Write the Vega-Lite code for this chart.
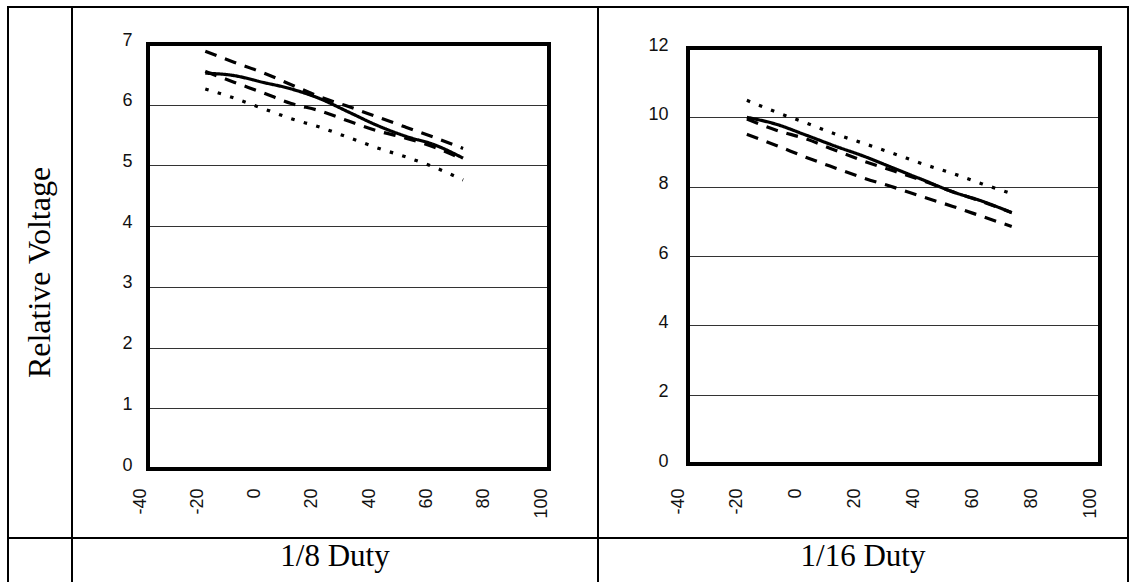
{
  "$schema": "https://vega.github.io/schema/vega-lite/v6.json",
  "padding": {"left": 7, "top": 6, "right": 0, "bottom": 0},
  "background": "white",
  "config": {
    "view": {"stroke": "black", "strokeWidth": 2},
    "axis": {"domain": false, "ticks": false, "tickSize": 0, "labelFont": "Liberation Sans", "labelFontSize": 18, "labelColor": "#111", "gridColor": "#333", "gridWidth": 1.2, "gridOpacity": 1}
  },
  "datasets": {
    "duty8": [
      {"temperature": -20, "voltage": 6.52, "curve": "Curve 1"},
      {"temperature": -10, "voltage": 6.48, "curve": "Curve 1"},
      {"temperature": 0, "voltage": 6.37, "curve": "Curve 1"},
      {"temperature": 10, "voltage": 6.26, "curve": "Curve 1"},
      {"temperature": 20, "voltage": 6.10, "curve": "Curve 1"},
      {"temperature": 30, "voltage": 5.88, "curve": "Curve 1"},
      {"temperature": 40, "voltage": 5.66, "curve": "Curve 1"},
      {"temperature": 50, "voltage": 5.48, "curve": "Curve 1"},
      {"temperature": 60, "voltage": 5.34, "curve": "Curve 1"},
      {"temperature": 70, "voltage": 5.12, "curve": "Curve 1"},
      {"temperature": -20, "voltage": 6.88, "curve": "Curve 2"},
      {"temperature": -10, "voltage": 6.70, "curve": "Curve 2"},
      {"temperature": 0, "voltage": 6.53, "curve": "Curve 2"},
      {"temperature": 10, "voltage": 6.33, "curve": "Curve 2"},
      {"temperature": 20, "voltage": 6.13, "curve": "Curve 2"},
      {"temperature": 30, "voltage": 5.97, "curve": "Curve 2"},
      {"temperature": 40, "voltage": 5.80, "curve": "Curve 2"},
      {"temperature": 50, "voltage": 5.63, "curve": "Curve 2"},
      {"temperature": 60, "voltage": 5.46, "curve": "Curve 2"},
      {"temperature": 70, "voltage": 5.28, "curve": "Curve 2"},
      {"temperature": -20, "voltage": 6.55, "curve": "Curve 3"},
      {"temperature": -10, "voltage": 6.37, "curve": "Curve 3"},
      {"temperature": 0, "voltage": 6.20, "curve": "Curve 3"},
      {"temperature": 10, "voltage": 6.02, "curve": "Curve 3"},
      {"temperature": 20, "voltage": 5.90, "curve": "Curve 3"},
      {"temperature": 30, "voltage": 5.73, "curve": "Curve 3"},
      {"temperature": 40, "voltage": 5.57, "curve": "Curve 3"},
      {"temperature": 50, "voltage": 5.45, "curve": "Curve 3"},
      {"temperature": 60, "voltage": 5.30, "curve": "Curve 3"},
      {"temperature": 70, "voltage": 5.10, "curve": "Curve 3"},
      {"temperature": -20, "voltage": 6.26, "curve": "Curve 4"},
      {"temperature": -10, "voltage": 6.11, "curve": "Curve 4"},
      {"temperature": 0, "voltage": 5.94, "curve": "Curve 4"},
      {"temperature": 10, "voltage": 5.77, "curve": "Curve 4"},
      {"temperature": 20, "voltage": 5.63, "curve": "Curve 4"},
      {"temperature": 30, "voltage": 5.46, "curve": "Curve 4"},
      {"temperature": 40, "voltage": 5.29, "curve": "Curve 4"},
      {"temperature": 50, "voltage": 5.14, "curve": "Curve 4"},
      {"temperature": 60, "voltage": 4.97, "curve": "Curve 4"},
      {"temperature": 70, "voltage": 4.76, "curve": "Curve 4"}
    ],
    "duty16": [
      {"temperature": -20, "voltage": 10.0, "curve": "Curve 1"},
      {"temperature": -10, "voltage": 9.80, "curve": "Curve 1"},
      {"temperature": 0, "voltage": 9.49, "curve": "Curve 1"},
      {"temperature": 10, "voltage": 9.17, "curve": "Curve 1"},
      {"temperature": 20, "voltage": 8.87, "curve": "Curve 1"},
      {"temperature": 30, "voltage": 8.53, "curve": "Curve 1"},
      {"temperature": 40, "voltage": 8.19, "curve": "Curve 1"},
      {"temperature": 50, "voltage": 7.85, "curve": "Curve 1"},
      {"temperature": 60, "voltage": 7.58, "curve": "Curve 1"},
      {"temperature": 70, "voltage": 7.25, "curve": "Curve 1"},
      {"temperature": -20, "voltage": 9.51, "curve": "Curve 2"},
      {"temperature": -10, "voltage": 9.19, "curve": "Curve 2"},
      {"temperature": 0, "voltage": 8.85, "curve": "Curve 2"},
      {"temperature": 10, "voltage": 8.54, "curve": "Curve 2"},
      {"temperature": 20, "voltage": 8.24, "curve": "Curve 2"},
      {"temperature": 30, "voltage": 7.98, "curve": "Curve 2"},
      {"temperature": 40, "voltage": 7.70, "curve": "Curve 2"},
      {"temperature": 50, "voltage": 7.43, "curve": "Curve 2"},
      {"temperature": 60, "voltage": 7.14, "curve": "Curve 2"},
      {"temperature": 70, "voltage": 6.85, "curve": "Curve 2"},
      {"temperature": -20, "voltage": 9.95, "curve": "Curve 3"},
      {"temperature": -10, "voltage": 9.63, "curve": "Curve 3"},
      {"temperature": 0, "voltage": 9.38, "curve": "Curve 3"},
      {"temperature": 10, "voltage": 9.05, "curve": "Curve 3"},
      {"temperature": 20, "voltage": 8.73, "curve": "Curve 3"},
      {"temperature": 30, "voltage": 8.45, "curve": "Curve 3"},
      {"temperature": 40, "voltage": 8.17, "curve": "Curve 3"},
      {"temperature": 50, "voltage": 7.85, "curve": "Curve 3"},
      {"temperature": 60, "voltage": 7.57, "curve": "Curve 3"},
      {"temperature": 70, "voltage": 7.25, "curve": "Curve 3"},
      {"temperature": -20, "voltage": 10.49, "curve": "Curve 4"},
      {"temperature": -10, "voltage": 10.15, "curve": "Curve 4"},
      {"temperature": 0, "voltage": 9.84, "curve": "Curve 4"},
      {"temperature": 10, "voltage": 9.52, "curve": "Curve 4"},
      {"temperature": 20, "voltage": 9.24, "curve": "Curve 4"},
      {"temperature": 30, "voltage": 8.95, "curve": "Curve 4"},
      {"temperature": 40, "voltage": 8.65, "curve": "Curve 4"},
      {"temperature": 50, "voltage": 8.38, "curve": "Curve 4"},
      {"temperature": 60, "voltage": 8.08, "curve": "Curve 4"},
      {"temperature": 70, "voltage": 7.80, "curve": "Curve 4"}
    ]
  },
  "columns": 3,
  "spacing": 0,
  "bounds": "flush",
  "resolve": {"scale": {"x": "independent", "y": "independent"}},
  "concat": [
    {
      "width": 64,
      "height": 531,
      "data": {"values": [{"label": "Relative Voltage"}]},
      "mark": {"type": "text", "angle": 270, "font": "Liberation Serif", "fontSize": 32, "color": "black", "align": "center", "baseline": "middle"},
      "encoding": {
        "x": {"field": "label", "type": "nominal", "axis": null},
        "y": {"field": "label", "type": "nominal", "axis": null},
        "text": {"field": "label", "type": "nominal"}
      }
    },
    {
      "width": 526,
      "height": 531,
      "layer": [
        {
          "data": {"name": "duty8"},
          "mark": {"type": "line", "interpolate": "monotone", "color": "black", "strokeWidth": 3.2},
          "encoding": {
            "x": {"field": "temperature", "type": "quantitative",
              "scale": {"domain": [-40, 100], "range": [76, 477], "nice": false, "zero": false},
              "axis": {"values": [-40, -20, 0, 20, 40, 60, 80, 100], "labelExpr": "'' + datum.value", "labelAngle": 270, "offset": -52, "labelPadding": 2, "labelOffset": -8, "title": null, "grid": false}},
            "y": {"field": "voltage", "type": "quantitative",
              "scale": {"domain": [0, 7], "range": [462, 37], "nice": false, "zero": false},
              "axis": {"values": [0, 1, 2, 3, 4, 5, 6, 7], "labelExpr": "'' + datum.value", "offset": -62, "labelPadding": 2, "labelOffset": -4, "grid": true, "title": null}},
            "strokeDash": {"field": "curve", "type": "nominal", "legend": null,
              "scale": {"domain": ["Curve 1", "Curve 2", "Curve 3", "Curve 4"], "range": [[1, 0], [12, 9], [12, 9], [3.5, 9.5]]}}
          }
        },
        {
          "data": {"values": [{"frame": "plot"}]},
          "mark": {"type": "rect", "fill": "transparent", "stroke": "black", "strokeWidth": 4},
          "encoding": {"x": {"datum": -40}, "x2": {"datum": 100}, "y": {"datum": 0}, "y2": {"datum": 7}}
        }
      ]
    },
    {
      "width": 530,
      "height": 531,
      "layer": [
        {
          "data": {"name": "duty16"},
          "mark": {"type": "line", "interpolate": "monotone", "color": "black", "strokeWidth": 3.2},
          "encoding": {
            "x": {"field": "temperature", "type": "quantitative",
              "scale": {"domain": [-40, 100], "range": [90, 502], "nice": false, "zero": false},
              "axis": {"values": [-40, -20, 0, 20, 40, 60, 80, 100], "labelExpr": "'' + datum.value", "labelAngle": 270, "offset": -52, "labelPadding": 2, "labelOffset": -10, "title": null, "grid": false}},
            "y": {"field": "voltage", "type": "quantitative",
              "scale": {"domain": [0, 12], "range": [457, 41], "nice": false, "zero": false},
              "axis": {"values": [0, 2, 4, 6, 8, 10, 12], "labelExpr": "'' + datum.value", "offset": -72, "labelPadding": 2, "labelOffset": -3, "grid": true, "title": null}},
            "strokeDash": {"field": "curve", "type": "nominal", "legend": null,
              "scale": {"domain": ["Curve 1", "Curve 2", "Curve 3", "Curve 4"], "range": [[1, 0], [12, 9], [12, 9], [3.5, 9.5]]}}
          }
        },
        {
          "data": {"values": [{"frame": "plot"}]},
          "mark": {"type": "rect", "fill": "transparent", "stroke": "black", "strokeWidth": 4},
          "encoding": {"x": {"datum": -40}, "x2": {"datum": 100}, "y": {"datum": 0}, "y2": {"datum": 12}}
        }
      ]
    },
    {
      "width": 64,
      "height": 45,
      "data": {"values": [{"label": " "}]},
      "mark": {"type": "text"},
      "encoding": {
        "x": {"field": "label", "type": "nominal", "axis": null},
        "y": {"field": "label", "type": "nominal", "axis": null},
        "text": {"field": "label", "type": "nominal"}
      }
    },
    {
      "width": 526,
      "height": 45,
      "data": {"values": [{"label": "1/8 Duty"}]},
      "mark": {"type": "text", "font": "Liberation Serif", "fontSize": 31, "color": "black", "align": "center", "baseline": "middle", "dy": -4},
      "encoding": {
        "x": {"field": "label", "type": "nominal", "axis": null},
        "y": {"field": "label", "type": "nominal", "axis": null},
        "text": {"field": "label", "type": "nominal"}
      }
    },
    {
      "width": 530,
      "height": 45,
      "data": {"values": [{"label": "1/16 Duty"}]},
      "mark": {"type": "text", "font": "Liberation Serif", "fontSize": 31, "color": "black", "align": "center", "baseline": "middle", "dy": -4},
      "encoding": {
        "x": {"field": "label", "type": "nominal", "axis": null},
        "y": {"field": "label", "type": "nominal", "axis": null},
        "text": {"field": "label", "type": "nominal"}
      }
    }
  ]
}
